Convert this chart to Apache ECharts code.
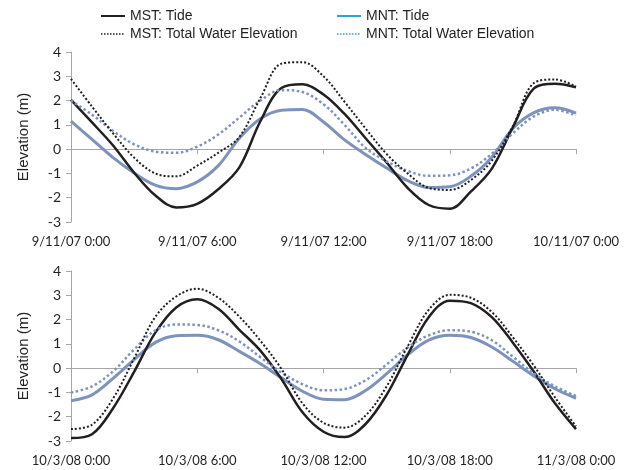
<!DOCTYPE html>
<html>
<head>
<meta charset="utf-8">
<script src="https://cdn.jsdelivr.net/npm/echarts@6/dist/echarts.min.js"></script>
<style>
html,body{margin:0;padding:0;background:#fff;}
#chart{width:625px;height:470px;}
</style>
</head>
<body>
<div id="chart"></div>
<script>
// Hours since 0:00 for every reading
var hours = [0,1,2,3,4,5,6,7,8,9,10,11,12,13,14,15,16,17,18,19,20,21,22,23,24];

// Tick labels
var topTickLabels = ['9/11/07 0:00','9/11/07 6:00','9/11/07 12:00','9/11/07 18:00','10/11/07 0:00'];
var bottomTickLabels = ['10/3/08 0:00','10/3/08 6:00','10/3/08 12:00','10/3/08 18:00','11/3/08 0:00'];

// Series names
var seriesNames = ['MST: Tide','MST: Total Water Elevation','MNT: Tide','MNT: Total Water Elevation'];

// Top panel (9/11/07)
var topMstTide  = [2.03,1.10,0.15,-0.97,-1.90,-2.40,-2.25,-1.65,-0.75,1.15,2.52,2.67,2.25,1.45,0.45,-0.55,-1.60,-2.30,-2.45,-1.75,-0.80,0.90,2.50,2.69,2.55];
var topMstTotal = [2.89,1.75,0.65,-0.35,-1.00,-1.12,-0.68,-0.15,0.50,2.10,3.52,3.58,3.00,1.95,0.85,-0.20,-1.00,-1.60,-1.68,-1.28,-0.47,0.95,2.72,2.87,2.58];
var topMntTide  = [1.15,0.40,-0.35,-0.98,-1.48,-1.63,-1.35,-0.68,0.45,1.25,1.60,1.63,1.12,0.38,-0.22,-0.78,-1.30,-1.58,-1.55,-1.12,-0.33,0.85,1.50,1.70,1.48];
var topMntTotal = [2.00,1.42,0.75,0.20,-0.10,-0.15,0.10,0.60,1.30,2.00,2.43,2.35,1.85,1.00,0.05,-0.50,-0.90,-1.10,-1.08,-0.80,-0.19,0.65,1.35,1.62,1.39];

// Bottom panel (10/3/08)
var botMstTide  = [-2.88,-2.72,-1.65,-0.15,1.45,2.50,2.84,2.45,1.58,0.72,-0.45,-1.82,-2.62,-2.84,-2.30,-1.10,0.55,2.10,2.78,2.68,2.10,1.05,-0.15,-1.45,-2.51];
var botMstTotal = [-2.51,-2.33,-1.25,0.40,2.10,2.95,3.27,2.90,2.12,1.13,-0.03,-1.45,-2.25,-2.45,-1.95,-0.75,0.90,2.40,3.02,2.90,2.31,1.27,0.10,-1.20,-2.40];
var botMntTide  = [-1.34,-1.10,-0.42,0.35,1.05,1.33,1.35,1.17,0.69,0.18,-0.40,-0.95,-1.28,-1.30,-0.92,-0.23,0.55,1.15,1.35,1.26,0.87,0.28,-0.32,-0.85,-1.24];
var botMntTotal = [-1.01,-0.75,-0.13,0.77,1.55,1.80,1.78,1.56,1.10,0.45,-0.18,-0.66,-0.91,-0.86,-0.50,0.15,0.85,1.35,1.56,1.50,1.15,0.47,-0.22,-0.75,-1.15];

function pairs(vals){ return hours.map(function(h,i){ return [h, vals[i]]; }); }

var BLACK = '#231f20';
var BLUE = '#7b93bd';
var LEGEND_BLUE = '#2ea0df';
var AXIS = '#a6a6a6';
var CLEAR = 'rgba(0,0,0,0)';

function makeX(idx, labels){
  return {
    gridIndex: idx, type: 'value', min: 0, max: 24, interval: 6,
    axisLine: {show: true, lineStyle: {color: AXIS, width: 1}},
    axisTick: {show: true, length: 5, lineStyle: {color: AXIS}},
    splitLine: {show: false},
    axisLabel: {
      margin: 13, color: BLACK, fontFamily: 'Lato', fontSize: 13,
      formatter: function(v){ return labels[Math.round(v/6)]; }
    }
  };
}
function makeY(idx){
  return {
    gridIndex: idx, type: 'value', min: -3, max: 4, interval: 1,
    name: 'Elevation (m)', nameLocation: 'middle', nameGap: 40, nameRotate: 90,
    nameTextStyle: {fontFamily: 'Liberation Sans', fontSize: 15, color: BLACK},
    axisLine: {show: true, lineStyle: {color: AXIS, width: 1}},
    axisTick: {show: true, length: 5, lineStyle: {color: AXIS}},
    splitLine: {show: false},
    axisLabel: {margin: 10, color: BLACK, fontFamily: 'Lato', fontSize: 14}
  };
}
function makeSeries(idx, name, vals, color, dotted, width){
  return {
    name: name, type: 'line', xAxisIndex: idx, yAxisIndex: idx,
    data: pairs(vals), smooth: 0.35, showSymbol: false, symbol: 'none',
    lineStyle: {color: color, width: width, type: dotted ? 'dotted' : 'solid'},
    itemStyle: {color: color},
    z: dotted ? 3 : 2
  };
}

var hiddenDot = {color: CLEAR, borderColor: CLEAR, borderWidth: 0, opacity: 0};

var legendBase = {
  top: 4, orient: 'vertical', itemWidth: 24, itemHeight: 12, itemGap: 4,
  itemStyle: hiddenDot,
  textStyle: {fontFamily: 'Liberation Sans', fontSize: 14, color: BLACK}
};

var chart = echarts.init(document.getElementById('chart'), null, {renderer: 'canvas'});
chart.setOption({
  animation: false,
  backgroundColor: '#ffffff',
  legend: [
    Object.assign({}, legendBase, {
      left: 95,
      data: [
        {name: seriesNames[0], itemStyle: hiddenDot, lineStyle: {color: BLACK, width: 2, opacity: 1}},
        {name: seriesNames[1], itemStyle: hiddenDot, lineStyle: {color: BLACK, width: 1.5, type: 'dotted', opacity: 1}}
      ]
    }),
    Object.assign({}, legendBase, {
      left: 331,
      data: [
        {name: seriesNames[2], itemStyle: hiddenDot, lineStyle: {color: LEGEND_BLUE, width: 2, opacity: 1}},
        {name: seriesNames[3], itemStyle: hiddenDot, lineStyle: {color: LEGEND_BLUE, width: 1.5, type: 'dotted', opacity: 1}}
      ]
    })
  ],
  grid: [
    {left: 71, right: 49, top: 52, height: 170},
    {left: 71, right: 49, top: 271, height: 170}
  ],
  xAxis: [makeX(0, topTickLabels), makeX(1, bottomTickLabels)],
  yAxis: [makeY(0), makeY(1)],
  series: [
    makeSeries(0, seriesNames[2], topMntTide, BLUE, false, 3),
    makeSeries(0, seriesNames[3], topMntTotal, BLUE, true, 2.5),
    makeSeries(0, seriesNames[0], topMstTide, BLACK, false, 2.5),
    makeSeries(0, seriesNames[1], topMstTotal, BLACK, true, 2),
    makeSeries(1, seriesNames[2], botMntTide, BLUE, false, 3),
    makeSeries(1, seriesNames[3], botMntTotal, BLUE, true, 2.5),
    makeSeries(1, seriesNames[0], botMstTide, BLACK, false, 2.5),
    makeSeries(1, seriesNames[1], botMstTotal, BLACK, true, 2)
  ]
});
</script>
</body>
</html>
